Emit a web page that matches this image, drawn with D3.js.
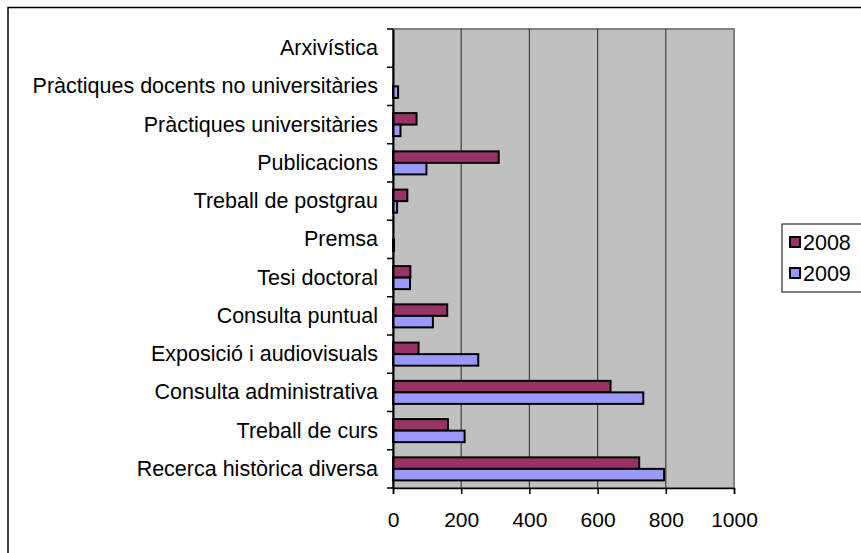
<!DOCTYPE html>
<html>
<head>
<meta charset="utf-8">
<script src="https://cdn.jsdelivr.net/npm/d3@7"></script>
<style>
  body { margin: 0; background: #fff; }
  text { font-family: "Liberation Sans", Arial, sans-serif; fill: #000; }
</style>
</head>
<body>
<div id="chart"></div>
<script>
// data, top to bottom as drawn
const categories = [
    "Arxivística",
    "Pràctiques docents no universitàries",
    "Pràctiques universitàries",
    "Publicacions",
    "Treball de postgrau",
    "Premsa",
    "Tesi doctoral",
    "Consulta puntual",
    "Exposició i audiovisuals",
    "Consulta administrativa",
    "Treball de curs",
    "Recerca històrica diversa"
];
const values2008 = [0, 0, 69, 310, 42, 0, 51, 159, 75, 638, 161, 722];
const values2009 = [0, 15, 22, 98, 12, 3, 50, 117, 250, 734, 210, 795];
const seriesNames = ["2008", "2009"];
const seriesColors = ["#993366", "#9999ff"];
const xTicks = [0, 200, 400, 600, 800, 1000];

const width = 861, height = 553;
const plot = { left: 393, right: 734, top: 29, bottom: 488 };

const svg = d3.select("#chart").append("svg")
    .attr("width", width)
    .attr("height", height);

// outer chart border (runs off the right and bottom edge)
svg.append("rect")
    .attr("x", 8).attr("y", 7.5)
    .attr("width", 900).attr("height", 600)
    .attr("fill", "#fff")
    .attr("stroke", "#000")
    .attr("stroke-width", 1.5);

const xScale = d3.scaleLinear()
    .domain([0, 1000])
    .range([plot.left, plot.right]);

const yScale = d3.scaleBand()
    .domain(categories)
    .range([plot.top, plot.bottom]);

const inner = d3.scaleBand()
    .domain(seriesNames)
    .range([0, yScale.bandwidth()])
    .paddingOuter(0.66);

// plot area
svg.append("rect")
    .attr("x", plot.left).attr("y", plot.top)
    .attr("width", plot.right - plot.left)
    .attr("height", plot.bottom - plot.top)
    .attr("fill", "#c0c0c0")
    .attr("stroke", "#808080")
    .attr("stroke-width", 2);

// gridlines
svg.append("g")
    .selectAll("line")
    .data(xTicks.slice(1, -1))
    .join("line")
    .attr("x1", d => xScale(d)).attr("x2", d => xScale(d))
    .attr("y1", plot.top).attr("y2", plot.bottom)
    .attr("stroke", "#404040")
    .attr("stroke-width", 1.2);

// bars
const rows = categories.map((c, i) => ({ cat: c, vals: [values2008[i], values2009[i]] }));
const group = svg.append("g")
    .selectAll("g")
    .data(rows)
    .join("g")
    .attr("transform", d => `translate(0,${yScale(d.cat)})`);

group.selectAll("rect")
    .data(d => d.vals.map((v, j) => ({ v: v, s: seriesNames[j], c: seriesColors[j] })).filter(d => d.v > 0))
    .join("rect")
    .attr("x", xScale(0))
    .attr("y", d => inner(d.s))
    .attr("width", d => xScale(d.v) - xScale(0))
    .attr("height", inner.bandwidth())
    .attr("fill", d => d.c)
    .attr("stroke", "#000")
    .attr("stroke-width", 2);

// axes
const yAxis = d3.axisLeft(yScale).tickSize(0).tickPadding(15);
svg.append("g")
    .attr("class", "y-axis")
    .attr("transform", `translate(${plot.left},0)`)
    .call(yAxis)
    .call(g => g.select(".domain").attr("stroke", "#000").attr("stroke-width", 2))
    .call(g => g.selectAll("text").style("font-size", "21.5px"));

// category tick marks sit on band boundaries
svg.append("g")
    .selectAll("line")
    .data(d3.range(categories.length + 1))
    .join("line")
    .attr("x1", plot.left - 6).attr("x2", plot.left)
    .attr("y1", i => plot.top + i * yScale.step())
    .attr("y2", i => plot.top + i * yScale.step())
    .attr("stroke", "#000")
    .attr("stroke-width", 1.5);

const xAxis = d3.axisBottom(xScale)
    .tickValues(xTicks)
    .tickFormat(d3.format("d"))
    .tickSize(6)
    .tickPadding(18);
svg.append("g")
    .attr("class", "x-axis")
    .attr("transform", `translate(0,${plot.bottom})`)
    .call(xAxis)
    .call(g => g.select(".domain").attr("stroke", "#000").attr("stroke-width", 1.5))
    .call(g => g.selectAll(".tick line").attr("stroke", "#000").attr("stroke-width", 1.5))
    .call(g => g.selectAll("text").style("font-size", "21px"));

// legend
const legend = svg.append("g").attr("transform", "translate(782,224)");
legend.append("rect")
    .attr("x", 0).attr("y", 0)
    .attr("width", 100).attr("height", 68)
    .attr("fill", "#fff")
    .attr("stroke", "#000")
    .attr("stroke-width", 1);
seriesNames.forEach((s, i) => {
    legend.append("rect")
        .attr("x", 8).attr("y", 13 + i * 31)
        .attr("width", 10).attr("height", 10)
        .attr("fill", seriesColors[i])
        .attr("stroke", "#000")
        .attr("stroke-width", 2);
    legend.append("text")
        .attr("x", 21).attr("y", 18 + i * 31)
        .attr("dy", "0.35em")
        .style("font-size", "21.5px")
        .text(s);
});
</script>
</body>
</html>
